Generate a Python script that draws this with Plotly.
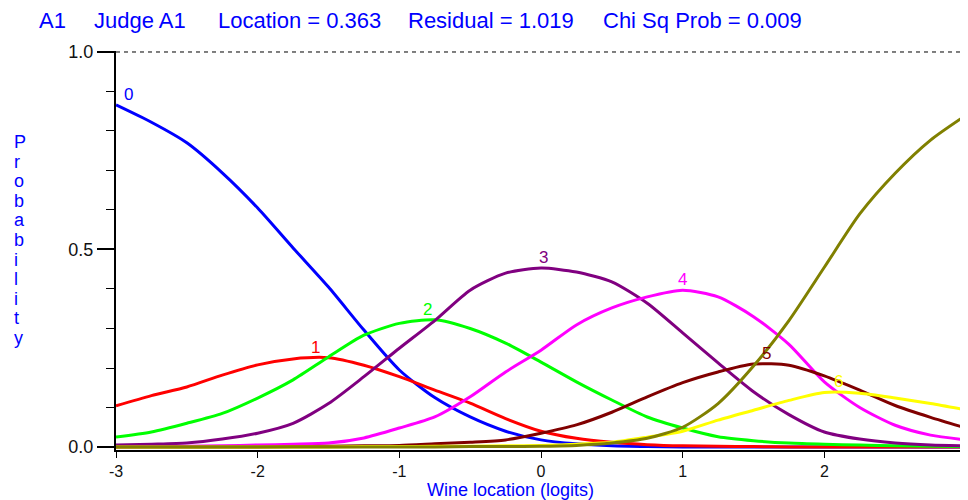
import plotly.graph_objects as go

# ---------------- data ----------------
x_logits = [-3, -2.75, -2.5, -2.25, -2, -1.75, -1.5, -1.25, -1, -0.75, -0.5, -0.25,
            0, 0.25, 0.5, 0.75, 1, 1.25, 1.5, 1.75, 2, 2.25, 2.5, 2.75, 3]

cat0 = [0.866, 0.822, 0.770, 0.694, 0.605, 0.504, 0.405, 0.296, 0.195, 0.125, 0.076, 0.040,
        0.018, 0.008, 0.003, 0.001, 0.0, 0.0, 0.0, 0.0, 0.0, 0.0, 0.0, 0.0, 0.0]
cat1 = [0.104, 0.130, 0.152, 0.182, 0.208, 0.223, 0.226, 0.207, 0.178, 0.144, 0.111, 0.072,
        0.040, 0.022, 0.012, 0.006, 0.003, 0.002, 0.001, 0.0, 0.0, 0.0, 0.0, 0.0, 0.0]
cat2 = [0.025, 0.038, 0.060, 0.085, 0.124, 0.170, 0.228, 0.283, 0.313, 0.322, 0.300, 0.263,
        0.215, 0.165, 0.119, 0.076, 0.048, 0.026, 0.016, 0.010, 0.007, 0.005, 0.003, 0.002, 0.001]
cat3 = [0.005, 0.007, 0.010, 0.020, 0.035, 0.060, 0.110, 0.178, 0.250, 0.320, 0.397, 0.440,
        0.453, 0.443, 0.418, 0.364, 0.289, 0.213, 0.140, 0.082, 0.038, 0.020, 0.010, 0.005, 0.003]
cat4 = [0.0, 0.001, 0.002, 0.003, 0.005, 0.007, 0.010, 0.023, 0.048, 0.076, 0.127, 0.190,
        0.245, 0.309, 0.352, 0.380, 0.397, 0.380, 0.330, 0.260, 0.165, 0.100, 0.055, 0.030, 0.018]
cat5 = [0.0, 0.0, 0.0, 0.0, 0.0, 0.001, 0.002, 0.003, 0.004, 0.008, 0.012, 0.018,
        0.035, 0.056, 0.088, 0.127, 0.163, 0.190, 0.210, 0.207, 0.180, 0.144, 0.105, 0.075, 0.048]
cat6 = [0.0, 0.0, 0.0, 0.0, 0.0, 0.0, 0.0, 0.001, 0.001, 0.002, 0.002, 0.003,
        0.004, 0.007, 0.012, 0.025, 0.040, 0.068, 0.093, 0.118, 0.138, 0.136, 0.124, 0.110, 0.094]
cat7 = [0.0, 0.0, 0.0, 0.0, 0.0, 0.0, 0.0, 0.0, 0.0, 0.0, 0.001, 0.001,
        0.002, 0.004, 0.010, 0.022, 0.050, 0.110, 0.205, 0.320, 0.455, 0.590, 0.693, 0.777, 0.840]

category_names = ["0", "1", "2", "3", "4", "5", "6", "7"]
series = [cat0, cat1, cat2, cat3, cat4, cat5, cat6, cat7]
colors = ["#0000FF", "#FF0000", "#00FF00", "#800080", "#FF00FF", "#800000", "#FFFF00", "#808000"]

x_tick_vals = [-3, -2, -1, 0, 1, 2, 3]
x_tick_text = ["-3", "-2", "-1", "0", "1", "2", "3"]
y_tick_vals = [0.0, 0.5, 1.0]
y_tick_text = ["0.0", "0.5", "1.0"]

title_parts = ["A1", "Judge A1", "Location = 0.363", "Residual = 1.019", "Chi Sq Prob = 0.009"]
y_title = "Probability"
x_title = "Wine location (logits)"

# ---------------- layout geometry ----------------
# the page body has an 8px default margin, so the figure is drawn 8px in/down
OFF = 8
W, H = 968 - OFF, 500 - OFF
L, R, T, B = 116 - OFF, 2, 51 - OFF, 50
PW, PH = W - L - R, H - T - B
FONT = "Liberation Sans, Arial, sans-serif"
BLUE = "#0000FF"


def px(xp):
    """page pixel x -> paper x"""
    return (xp - OFF - L) / PW


def py(yp):
    """page pixel y -> paper y"""
    return (H - B - (yp - OFF)) / PH


fig = go.Figure()
for name, ys, col in zip(category_names, series, colors):
    fig.add_trace(go.Scatter(x=x_logits, y=ys, mode="lines", name=name,
                             line=dict(color=col, width=3, shape="spline", smoothing=0.7),
                             hoverinfo="skip"))

annotations = []
# category labels at each curve's peak
for name, ys, col in zip(category_names, series, colors):
    i = max(range(len(ys)), key=lambda k: ys[k])
    xpk, ypk = x_logits[i], ys[i]
    xshift = 0
    if 0 < i < len(ys) - 1:
        y0, y1, y2 = ys[i - 1], ys[i], ys[i + 1]
        den = y0 - 2 * y1 + y2
        h = x_logits[i + 1] - x_logits[i]
        if den != 0:
            xpk = x_logits[i] + h * (y0 - y2) / (2 * den)
    elif i == 0:
        xshift = 12
    annotations.append(dict(x=xpk, y=ypk, xref="x", yref="y", text=name, showarrow=False,
                            font=dict(family=FONT, size=17, color=col),
                            xanchor="center", yanchor="bottom", yshift=-1, xshift=xshift))

# header
title_x = [37, 92, 216, 406, 601]
for t, xp in zip(title_parts, title_x):
    annotations.append(dict(x=px(xp), y=py(21), xref="paper", yref="paper", text=t,
                            showarrow=False, xanchor="left", yanchor="middle",
                            font=dict(family=FONT, size=22, color=BLUE)))

# vertical stacked y title
for k, ch in enumerate(y_title):
    annotations.append(dict(x=px(12), y=py(142 + 19.6 * k), xref="paper", yref="paper",
                            text=ch, showarrow=False, xanchor="left", yanchor="middle",
                            font=dict(family=FONT, size=18, color=BLUE)))

# x title
annotations.append(dict(x=px(510), y=py(490), xref="paper", yref="paper", text=x_title,
                        showarrow=False, xanchor="center", yanchor="middle",
                        font=dict(family=FONT, size=18, color=BLUE)))

fig.update_layout(
    width=W, height=H,
    margin=dict(l=L, r=R, t=T, b=B),
    paper_bgcolor="white", plot_bgcolor="white",
    showlegend=False,
    annotations=annotations,
    shapes=[dict(type="line", xref="x", yref="y", x0=-3, x1=3, y0=1.0, y1=1.0,
                 line=dict(color="black", width=1, dash="4px,4px"))],
)

fig.update_xaxes(range=[-3, 3], showgrid=False, zeroline=False,
                 showline=True, linecolor="black", linewidth=2,
                 ticks="outside", ticklen=6, tickwidth=1, tickcolor="black",
                 tickmode="array", tickvals=x_tick_vals, ticktext=x_tick_text,
                 tickfont=dict(family=FONT, size=16, color="#111111"),
                 ticklabeloverflow="allow", automargin=False)
fig.update_yaxes(range=[-0.0076, 1.0025], showgrid=False, zeroline=False,
                 showline=True, linecolor="black", linewidth=2,
                 ticks="outside", ticklen=17, tickwidth=2, tickcolor="black",
                 tickmode="array", tickvals=y_tick_vals, ticktext=y_tick_text,
                 tickfont=dict(family=FONT, size=18, color="#111111"),
                 automargin=False,
                 minor=dict(tickmode="linear", tick0=0, dtick=0.1, ticks="outside",
                            ticklen=8, tickwidth=1, tickcolor="black", showgrid=False))

fig.write_html("out.html")
